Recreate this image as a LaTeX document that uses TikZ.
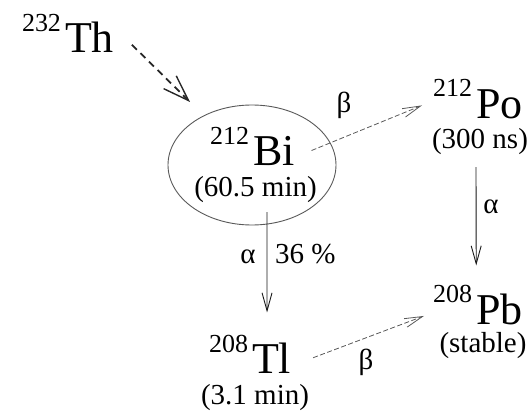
\documentclass[tikz,border=0pt]{standalone}
\usepackage{fontspec}
\setmainfont{Liberation Serif}
\usetikzlibrary{arrows.meta,shapes.geometric,calc}
\newcommand{\elsz}{\fontsize{44}{44}\selectfont}
\newcommand{\supsz}{\fontsize{26}{26}\selectfont}
\newcommand{\hlsz}{\fontsize{29}{29}\selectfont}
\tikzset{
  elem/.style={inner sep=0pt, outer sep=0pt, anchor=base west, font=\elsz},
  massno/.style={inner sep=0pt, outer sep=0pt, anchor=base east, font=\supsz},
  halflife/.style={inner sep=0pt, outer sep=0pt, anchor=base, font=\hlsz},
  decaylbl/.style={inner sep=0pt, outer sep=0pt, anchor=base, font=\hlsz},
  chainarrow/.style={draw=black!85, line width=1.8pt, dash pattern=on 7pt off 5pt,
    -{Straight Barb[length=26pt,width=18pt,line width=1.4pt]}},
  betaarrow/.style={draw=black!65, line width=0.8pt, dash pattern=on 5pt off 2.5pt,
    -{Straight Barb[length=18pt,width=9pt,line width=0.8pt]}},
  alphaarrow/.style={draw=black!90, line width=0.9pt,
    -{Straight Barb[length=18pt,width=10pt,line width=0.9pt]}},
}
\begin{document}
\begin{tikzpicture}[x=1pt,y=-1pt]
\useasboundingbox (0,0) rectangle (528,412);

% 232Th
\node[elem] (th) at (65,53) {Th};
\node[massno] (thA) at (61,32) {232};

% 212Bi
\node[draw=black!65, line width=0.9pt, ellipse, inner sep=0pt, minimum width=168pt, minimum height=120pt] (biell) at (252,165) {};
\node[elem] (bi) at (253,165) {Bi};
\node[massno] (biA) at (249,144) {212};
\node[halflife] (bihl) at (255.5,196) {(60.5 min)};

% 212Po
\node[elem] (po) at (476,118) {Po};
\node[massno] (poA) at (472,97) {212};
\node[halflife] (pohl) at (480,149) {(300 ns)};

% 208Tl
\node[elem] (tl) at (252,373) {Tl};
\node[massno] (tlA) at (248,352) {208};
\node[halflife] (tlhl) at (255,404) {(3.1 min)};

% 208Pb
\node[elem] (pb) at (476,324) {Pb};
\node[massno] (pbA) at (472,302) {208};
\node[halflife] (pbhl) at (483,352) {(stable)};

% labels
\node[decaylbl] (betaup) at (344,113) {β};
\node[decaylbl] (alphabi) at (248,263) {α};
\node[decaylbl, anchor=base west] (pct) at (275,263) {36 \%};
\node[decaylbl] (alphapo) at (491,213) {α};
\node[decaylbl] (betalow) at (366,369) {β};

% connectors
\draw[chainarrow] ($(th.east)+(18,7)$) -- ($(biell.center)+(-62,-63)$);
\draw[betaarrow] ($(bi.east)+(17,0)$) -- ($(poA.west)+(-11,17)$);
\draw[alphaarrow] ($(bihl.south)+(11.5,10)$) -- ($(tl.north)+(-4.5,-30)$);
\draw[alphaarrow] ($(pohl.south)+(-4,12)$) -- ($(pb.north)+(-23,-28)$);
\draw[betaarrow] ($(tl.east)+(22,0)$) -- ($(pb.west)+(-52,7)$);
\end{tikzpicture}
\end{document}
